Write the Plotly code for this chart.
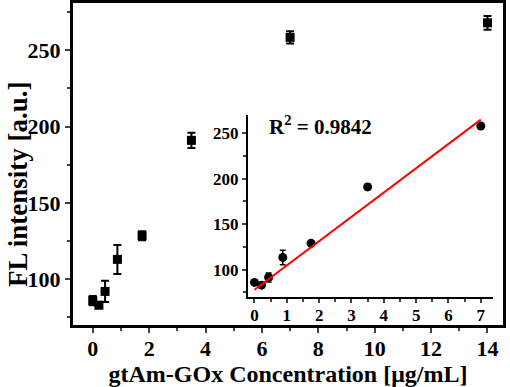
import plotly.graph_objects as go

# Data
conc = [0, 0.21875, 0.4375, 0.875, 1.75, 3.5, 7, 14]
fl = [86, 83, 92, 113, 128.5, 191, 258.5, 268]
fl_err = [3, 2, 7, 9.5, 3, 5, 4, 4.5]

inset_conc = [0, 0.21875, 0.4375, 0.875, 1.75, 3.5, 7]
inset_fl = [86, 83, 91.5, 113.5, 129, 191, 258]
inset_err = [2, 2, 5, 8, 2, 3, 2]

fit_x = [0, 7]
fit_y = [78, 265]

x_ticks = [0, 2, 4, 6, 8, 10, 12, 14]
y_ticks = [100, 150, 200, 250]
inset_x_ticks = [0, 1, 2, 3, 4, 5, 6, 7]
inset_y_ticks = [100, 150, 200, 250]

FONT = "Liberation Serif, Times New Roman, serif"


def bold(vals):
    return ["<b>%s</b>" % v for v in vals]


fig = go.Figure()

fig.add_trace(go.Scatter(
    x=conc, y=fl, mode="markers",
    marker=dict(symbol="square", size=9, color="black"),
    error_y=dict(type="data", array=fl_err, color="black", thickness=2, width=4),
    xaxis="x", yaxis="y", showlegend=False,
))

fig.add_trace(go.Scatter(
    x=inset_conc, y=inset_fl, mode="markers",
    marker=dict(symbol="circle", size=9, color="black"),
    error_y=dict(type="data", array=inset_err, color="black", thickness=1.5, width=3),
    xaxis="x2", yaxis="y2", showlegend=False,
))

fig.add_trace(go.Scatter(
    x=fit_x, y=fit_y, mode="lines",
    line=dict(color="red", width=2),
    xaxis="x2", yaxis="y2", showlegend=False,
))

fig.update_layout(
    width=510, height=387,
    margin=dict(l=73, r=7, t=3, b=62),
    paper_bgcolor="white", plot_bgcolor="white",
    font=dict(family=FONT, color="black"),
    xaxis=dict(
        domain=[0, 1], range=[-0.7, 14.55],
        tickvals=x_ticks, ticktext=bold(x_ticks),
        ticks="outside", ticklen=5, tickwidth=2, ticklabelstandoff=-3,
        minor=dict(dtick=1, tick0=0, ticks="outside", ticklen=3, tickwidth=2),
        showline=True, linewidth=3, linecolor="black", mirror=True,
        showgrid=False, zeroline=False, automargin=False,
        tickfont=dict(size=22, family=FONT, weight="bold"),
        title=dict(text="<b>gtAm-GOx Concentration [μg/mL]</b>",
                   font=dict(size=24, family=FONT), standoff=0),
    ),
    yaxis=dict(
        domain=[0, 1], range=[70, 281],
        tickvals=y_ticks, ticktext=bold(y_ticks),
        ticks="outside", ticklen=5, tickwidth=2,
        minor=dict(dtick=25, tick0=0, ticks="outside", ticklen=3, tickwidth=2),
        showline=True, linewidth=3, linecolor="black", mirror=True,
        showgrid=False, zeroline=False, automargin=False,
        tickfont=dict(size=22, family=FONT, weight="bold"),
    ),
    xaxis2=dict(
        domain=[0.407, 0.977], range=[-0.2, 7.38], anchor="y2",
        tickvals=inset_x_ticks, ticktext=bold(inset_x_ticks),
        ticks="outside", ticklen=4, tickwidth=2, ticklabelstandoff=-2,
        minor=dict(dtick=0.5, tick0=0, ticks="outside", ticklen=3, tickwidth=1.5),
        showline=True, linewidth=2, linecolor="black", mirror=False,
        showgrid=False, zeroline=False,
        tickfont=dict(size=17, family=FONT, weight="bold"),
    ),
    yaxis2=dict(
        domain=[0.087, 0.652], range=[70, 270], anchor="x2",
        tickvals=inset_y_ticks, ticktext=bold(inset_y_ticks),
        ticks="outside", ticklen=4, tickwidth=2,
        minor=dict(dtick=25, tick0=0, ticks="outside", ticklen=3, tickwidth=1.5),
        showline=True, linewidth=2, linecolor="black", mirror=False,
        showgrid=False, zeroline=False,
        tickfont=dict(size=17, family=FONT, weight="bold"),
    ),
    annotations=[
        dict(
            x=0.39, y=259, xref="x2", yref="y2", xanchor="left", yanchor="middle",
            text="<b>R<sup>2</sup> = 0.9842</b>", showarrow=False,
            font=dict(size=21, family=FONT, color="black"),
        ),
        dict(
            x=-0.128, y=0.438, xref="paper", yref="paper",
            xanchor="center", yanchor="middle", textangle=-90,
            text="<b>FL intensity [a.u.]</b>", showarrow=False,
            font=dict(size=27, family=FONT, color="black"),
        ),
    ],
)

fig.write_html("out.html", config={"displayModeBar": False},
               post_script="document.body.style.margin='0';")
